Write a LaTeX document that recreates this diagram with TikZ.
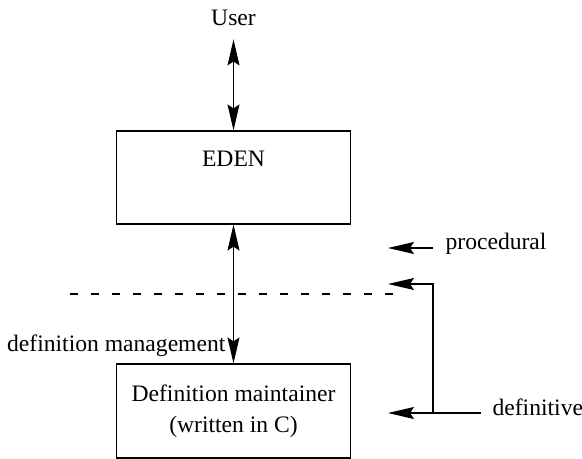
\documentclass[tikz,border=0pt]{standalone}
\usepackage{fontspec}
\setmainfont{Liberation Serif}
\usepackage{tikz}
\usetikzlibrary{arrows.meta,positioning,calc}

\begin{document}
\begin{tikzpicture}[
    x=0.5pt, y=-0.5pt,
    box/.style={draw, line width=0.6pt, minimum width=117pt, inner sep=0pt},
    lbl/.style={font=\fontsize{11.8}{15.5}\selectfont, inner sep=2pt},
    line width=0.6pt,
    >={Stealth[length=13pt, width=6pt, inset=2pt]}
]
\useasboundingbox (0,0) rectangle (582,459);

\node[lbl] (user) at (233.5,18) {User};
\node[box, minimum height=46.5pt] (eden) at (233.5,177.5) {};
\node[lbl] (edentxt) at (233.5,159) {EDEN};
\node[box, minimum height=47pt, lbl, align=center, inner sep=0pt] (maint) at (233.5,411)
    {Definition maintainer\\(written in C)};

\draw[<->] ($(user.south)+(0,9)$) -- (eden.north);
\draw[<->] (eden.south) -- (maint.north);
\node[lbl, anchor=base east] (mgmt) at (230,351) {definition management};

% procedural / definitive boundary
\coordinate (dashl) at (70,294);
\coordinate (dashr) at (393,294);
\draw[dashed, dash pattern=on 4pt off 6.5pt, line width=0.6pt] (dashl) -- (dashr);

\node[lbl, anchor=west] (procedural) at (441,244) {procedural};
\coordinate (ptail) at (433,248);
\coordinate (ptip) at (388,248);
\draw[->] (ptail) -- (ptip);

\node[lbl, anchor=west] (definitive) at (488,407) {definitive};
\coordinate (dtail) at (481,413);
\coordinate (djoin) at (433,413);
\coordinate (dtip) at (388,413);
\coordinate (utip) at (388,284);
\draw (dtail) -- (djoin);
\draw[->] (djoin) -- (dtip);
\draw[->] (djoin) |- (utip);

\end{tikzpicture}
\end{document}
